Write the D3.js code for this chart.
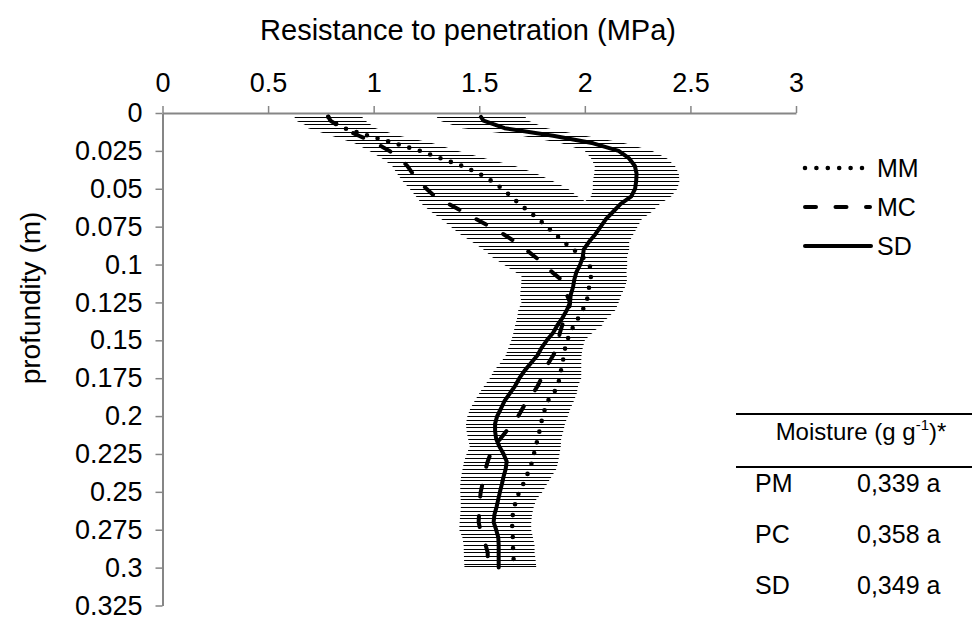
<!DOCTYPE html>
<html><head><meta charset="utf-8">
<script src="https://cdn.jsdelivr.net/npm/d3@7"></script>
<style>
body{margin:0;background:#fff}
text{font-family:"Liberation Sans",Arial,sans-serif;fill:#000}
</style>
</head><body>
<svg id="chart" width="972" height="617"></svg>
<script>
// ---------- data ----------
const depth = [0.0025,0.005,0.01,0.015,0.02,0.025,0.03,0.035,0.04,0.045,0.05,0.055,0.06,0.065,0.07,0.075,0.08,0.085,0.09,0.095,0.1,0.105,0.11,0.115,0.12,0.125,0.13,0.135,0.14,0.145,0.15,0.155,0.16,0.165,0.17,0.175,0.18,0.185,0.19,0.195,0.2,0.205,0.21,0.215,0.22,0.225,0.23,0.235,0.24,0.245,0.25,0.255,0.26,0.265,0.27,0.275,0.28,0.285,0.29,0.295,0.3];

const MM = [0.785,0.795,0.86,0.975,1.10,1.22,1.32,1.42,1.50,1.56,1.61,1.65,1.69,1.735,1.78,1.82,1.86,1.90,1.945,1.99,2.02,2.035,2.025,2.02,2.015,2.008,1.99,1.97,1.95,1.93,1.917,1.907,1.90,1.895,1.887,1.88,1.872,1.852,1.825,1.812,1.80,1.793,1.785,1.777,1.768,1.759,1.75,1.74,1.722,1.708,1.69,1.674,1.667,1.659,1.656,1.656,1.659,1.66,1.66,1.663,1.665];

const MC = [0.785,0.795,0.85,0.93,1.01,1.075,1.125,1.16,1.185,1.215,1.25,1.29,1.355,1.42,1.485,1.55,1.615,1.67,1.72,1.765,1.81,1.845,1.888,1.905,1.915,1.93,1.925,1.905,1.893,1.882,1.875,1.868,1.85,1.828,1.81,1.795,1.777,1.755,1.725,1.705,1.685,1.655,1.628,1.60,1.57,1.553,1.54,1.53,1.522,1.515,1.507,1.503,1.50,1.499,1.497,1.505,1.52,1.53,1.54,1.54,1.54];

const SD = [1.508,1.52,1.62,1.85,2.04,2.16,2.21,2.237,2.245,2.243,2.238,2.22,2.17,2.135,2.10,2.075,2.05,2.02,1.995,1.99,1.978,1.96,1.95,1.944,1.933,1.93,1.915,1.895,1.87,1.85,1.82,1.795,1.775,1.745,1.715,1.69,1.67,1.645,1.62,1.603,1.585,1.575,1.575,1.58,1.595,1.615,1.63,1.625,1.615,1.607,1.598,1.59,1.582,1.572,1.568,1.58,1.59,1.592,1.592,1.592,1.592];

const errMM = [0.16,0.165,0.15,0.145,0.18,0.18,0.21,0.25,0.27,0.29,0.31,0.315,0.33,0.33,0.30,0.30,0.30,0.28,0.25,0.20,0.17,0.15,0.15,0.15,0.14,0.13,0.13,0.13,0.12,0.105,0.083,0.083,0.084,0.088,0.096,0.103,0.096,0.11,0.123,0.12,0.12,0.113,0.113,0.111,0.118,0.121,0.124,0.125,0.12,0.112,0.11,0.096,0.091,0.091,0.09,0.09,0.095,0.102,0.102,0.104,0.105];

const errMC = [0.14,0.14,0.16,0.13,0.10,0.095,0.085,0.072,0.075,0.077,0.08,0.09,0.127,0.15,0.165,0.185,0.205,0.205,0.20,0.205,0.195,0.175,0.168,0.195,0.218,0.225,0.20,0.19,0.19,0.15,0.12,0.12,0.12,0.12,0.12,0.12,0.12,0.12,0.12,0.12,0.12,0.12,0.15,0.15,0.115,0.113,0.112,0.109,0.108,0.105,0.097,0.091,0.087,0.089,0.09,0.10,0.10,0.104,0.113,0.112,0.11];

const errSD = [0.21,0.21,0.20,0.15,0.15,0.16,0.18,0.19,0.20,0.205,0.20,0.19,0.185,0.185,0.17,0.175,0.18,0.19,0.215,0.21,0.223,0.237,0.25,0.246,0.24,0.23,0.23,0.215,0.20,0.188,0.168,0.157,0.15,0.145,0.145,0.14,0.146,0.145,0.142,0.145,0.141,0.138,0.135,0.133,0.14,0.14,0.14,0.14,0.14,0.14,0.14,0.14,0.14,0.14,0.14,0.14,0.14,0.14,0.14,0.14,0.14];

const seriesNames = ["MM","MC","SD"];
const xTicks = [0,0.5,1,1.5,2,2.5,3];
const yTicks = [0,0.025,0.05,0.075,0.1,0.125,0.15,0.175,0.2,0.225,0.25,0.275,0.3,0.325];
const hatchStep = 0.0025;

const tableHeader = "Moisture (g g";
const tableRows = ["PM","PC","SD"];
const tableVals = ["0,339 a","0,358 a","0,349 a"];

// ---------- chart ----------
const svg = d3.select("#chart");
const x = d3.scaleLinear().domain([0,3]).range([162.5,796]);
const y = d3.scaleLinear().domain([0,0.325]).range([113,605.5]);
const axisColor = "#868686";
const FONT = '"Liberation Sans",Arial,sans-serif';

const series = [
  {name:"MM", v:MM, e:errMM, dash:"0 11", width:4.6},
  {name:"MC", v:MC, e:errMC, dash:"11 19.5", width:4},
  {name:"SD", v:SD, e:errSD, dash:null, width:4}
];

// hatched error bands: horizontal lines clipped to the union of the bands
const area = d3.area().y((d,i)=>y(depth[i]));
const clip = svg.append("defs").append("clipPath").attr("id","bands");
series.forEach(s=>{
  clip.append("path").attr("d",
    area.x0((d,i)=>x(s.v[i]-s.e[i])).x1((d,i)=>x(s.v[i]+s.e[i]))(depth));
});
const yTop = Math.ceil(y(depth[0]))+0.5, yBot = Math.floor(y(depth[depth.length-1]))-0.5;
const hatchDepths = d3.range(depth[0], depth[depth.length-1]+1e-9, hatchStep);
const hy = d=>Math.min(Math.max(Math.round(y(d))+0.5,yTop),yBot);
svg.append("g").attr("clip-path","url(#bands)")
  .selectAll("line").data(hatchDepths).join("line")
  .attr("x1",x(0)).attr("x2",x(3))
  .attr("y1",hy).attr("y2",hy)
  .attr("stroke","#000").attr("stroke-width",1);

// axes
const gx = svg.append("g").attr("transform",`translate(0,${y(0)})`)
  .call(d3.axisTop(x).tickValues(xTicks).tickSize(7).tickSizeOuter(0).tickPadding(14).tickFormat(d=>String(d)));
const gy = svg.append("g").attr("transform",`translate(${x(0)},0)`)
  .call(d3.axisLeft(y).tickValues(yTicks).tickSize(7).tickSizeOuter(0).tickPadding(13).tickFormat(d=>String(d)));
[gx,gy].forEach(g=>{
  g.select(".domain").attr("stroke",axisColor).attr("stroke-width",2);
  g.selectAll(".tick line").attr("stroke",axisColor).attr("stroke-width",1.5);
  g.selectAll(".tick text").attr("font-size",27).attr("fill","#000").style("font-family",FONT);
});

// curves
const line = d3.line().y((d,i)=>y(depth[i]));
series.forEach(s=>{
  const p = svg.append("path")
    .attr("d", line.x((d,i)=>x(s.v[i]))(depth))
    .attr("fill","none").attr("stroke","#000")
    .attr("stroke-width",s.width).attr("stroke-linecap","round").attr("stroke-linejoin","round");
  if(s.dash) p.attr("stroke-dasharray",s.dash);
});

// titles
svg.append("text").attr("x",468).attr("y",30).attr("text-anchor","middle")
  .attr("dominant-baseline","central").attr("font-size",29).text("Resistance to penetration (MPa)");
svg.append("text").attr("transform","translate(30,298) rotate(-90)").attr("text-anchor","middle")
  .attr("dominant-baseline","central").attr("font-size",28).text("profundity (m)");

// legend
const legY = [168,207,246];
series.forEach((s,i)=>{
  const l = svg.append("line").attr("x1",805).attr("x2",s.name==="MM"?862:(s.name==="MC"?870:871))
    .attr("y1",legY[i]).attr("y2",legY[i]).attr("stroke","#000")
    .attr("stroke-width",s.width).attr("stroke-linecap","round");
  if(s.dash) l.attr("stroke-dasharray", s.name==="MM" ? "0 11.4" : s.dash);
  svg.append("text").attr("x",877).attr("y",legY[i]).attr("dominant-baseline","central")
    .attr("font-size",25).text(seriesNames[i]);
});

// moisture table
svg.append("line").attr("x1",736).attr("x2",972).attr("y1",414).attr("y2",414).attr("stroke","#000").attr("stroke-width",2);
svg.append("line").attr("x1",736).attr("x2",972).attr("y1",467).attr("y2",467).attr("stroke","#000").attr("stroke-width",2);
const hdr = svg.append("text").attr("x",861).attr("y",440).attr("text-anchor","middle").attr("font-size",24);
hdr.append("tspan").text(tableHeader);
hdr.append("tspan").attr("font-size",15).attr("dy",-10).text("-1");
hdr.append("tspan").attr("dy",10).text(")*");
tableRows.forEach((r,i)=>{
  const by = 492 + i*51;
  svg.append("text").attr("x",755).attr("y",by).attr("font-size",25).text(r);
  svg.append("text").attr("x",857).attr("y",by).attr("font-size",25).text(tableVals[i]);
});
</script>
</body></html>
